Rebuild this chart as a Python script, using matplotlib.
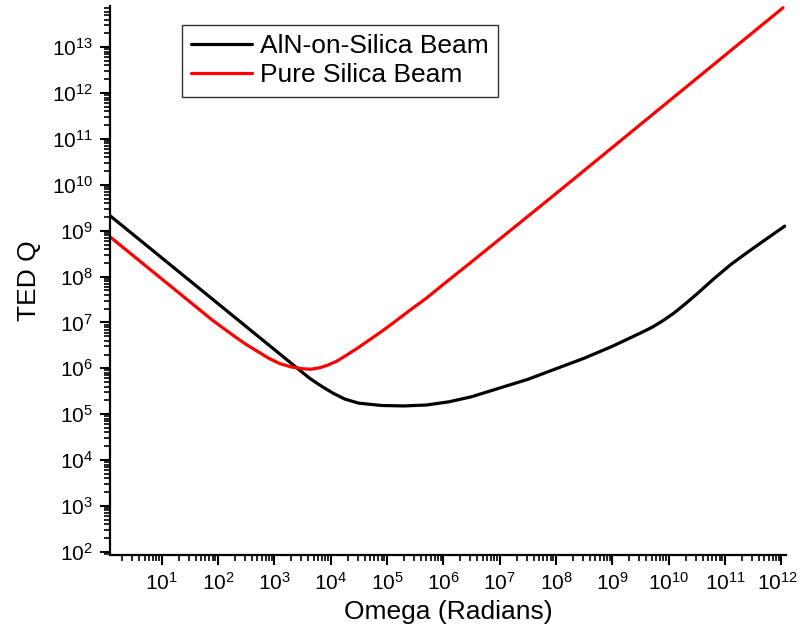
import numpy as np
import matplotlib
matplotlib.use("Agg")
import matplotlib.pyplot as plt
import matplotlib.ticker as ticker
import matplotlib.transforms as mtransforms

# 字体设置
plt.rcParams["font.family"] = ["Liberation Sans", "DejaVu Sans"]
plt.rcParams["mathtext.fontset"] = "custom"
plt.rcParams["mathtext.rm"] = "Liberation Sans"
plt.rcParams["mathtext.it"] = "Liberation Sans:italic"
label_size = 19
legend_size = 19
axis_size = 15

# 数据 (log10 values)
aln_log_omega = [0.09, 1.0, 2.0, 3.0, 3.39, 3.63, 3.85, 4.04, 4.25, 4.5, 4.9,
                 5.3, 5.7, 6.1, 6.5, 7.0, 7.5, 8.0, 8.5, 9.0, 9.5, 9.7, 9.9,
                 10.1, 10.3, 10.5, 10.8, 11.1, 11.4, 11.7, 12.06]
aln_log_q = [9.32, 8.41, 7.41, 6.41, 6.02, 5.78, 5.60, 5.46, 5.33, 5.24, 5.19,
             5.18, 5.20, 5.27, 5.38, 5.57, 5.76, 5.99, 6.22, 6.48, 6.77, 6.89,
             7.04, 7.21, 7.41, 7.62, 7.95, 8.26, 8.53, 8.79, 9.10]

silica_log_omega = [0.09, 1.0, 1.6, 1.9, 2.1, 2.3, 2.5, 2.7, 2.9, 3.1, 3.3,
                    3.5, 3.65, 3.8, 3.95, 4.1, 4.3, 4.5, 4.7, 4.9, 5.1, 5.4,
                    5.7, 6.0, 6.5, 8.0, 10.0, 12.03]
silica_log_q = [8.86, 7.95, 7.35, 7.05, 6.87, 6.69, 6.52, 6.37, 6.22, 6.10, 6.03,
                5.99, 5.98, 6.01, 6.07, 6.15, 6.30, 6.46, 6.63, 6.80, 6.98, 7.26,
                7.53, 7.83, 8.32, 9.81, 11.82, 13.86]

labels = ["AlN-on-Silica Beam", "Pure Silica Beam"]
x_decades = np.arange(1, 13)
y_decades = np.arange(2, 14)

fig = plt.figure(figsize=(8, 6.37), dpi=100)
ax = fig.add_axes([0.138, 0.1287, 0.845, 0.862])

ax.plot(10 ** np.array(aln_log_omega), 10 ** np.array(aln_log_q),
        color="black", lw=2.3, label=labels[0], solid_capstyle="round",
        solid_joinstyle="round")
ax.plot(10 ** np.array(silica_log_omega), 10 ** np.array(silica_log_q),
        color="red", lw=2.3, label=labels[1], solid_capstyle="round",
        solid_joinstyle="round")

ax.set_xscale("log")
ax.set_yscale("log")
ax.set_xlim(10 ** 0.09, 10 ** 12.09)
ax.set_ylim(10 ** 1.93, 10 ** 13.9)

# 坐标轴样式
for side in ["top", "right"]:
    ax.spines[side].set_visible(False)
for side in ["left", "bottom"]:
    ax.spines[side].set_linewidth(1.6)

ax.set_xticks(10.0 ** x_decades)
ax.set_yticks(10.0 ** y_decades)
ax.set_xticklabels([r"$\mathdefault{10^{%d}}$" % d for d in x_decades])
ax.set_yticklabels([r"$\mathdefault{10^{%d}}$" % d for d in y_decades])
for axis in (ax.xaxis, ax.yaxis):
    axis.set_minor_locator(ticker.LogLocator(base=10, subs=np.arange(2, 10), numticks=30))
    axis.set_minor_formatter(ticker.NullFormatter())

ax.tick_params(which="major", direction="out", length=7.5, width=1.5,
               labelsize=axis_size, pad=5)
ax.tick_params(which="minor", direction="out", length=4, width=1.2)

# 最右侧刻度标签稍微左移，避免被裁切
last_label = ax.get_xticklabels()[-1]
last_label.set_transform(last_label.get_transform() +
                         mtransforms.ScaledTranslation(-4 / 100, 0, fig.dpi_scale_trans))

ax.set_xlabel("Omega (Radians)", fontsize=label_size, labelpad=4)
ax.set_ylabel("TED Q", fontsize=label_size, labelpad=8)

leg = ax.legend(loc="upper left", bbox_to_anchor=(0.2275, 0.961),
                bbox_transform=fig.transFigure, borderaxespad=0,
                fontsize=legend_size, fancybox=False, edgecolor="#333333",
                framealpha=1, handlelength=2.3, handletextpad=0.3,
                labelspacing=0.2, borderpad=0.35)
leg.get_frame().set_linewidth(1.0)

fig.savefig("out.png", dpi=100)
